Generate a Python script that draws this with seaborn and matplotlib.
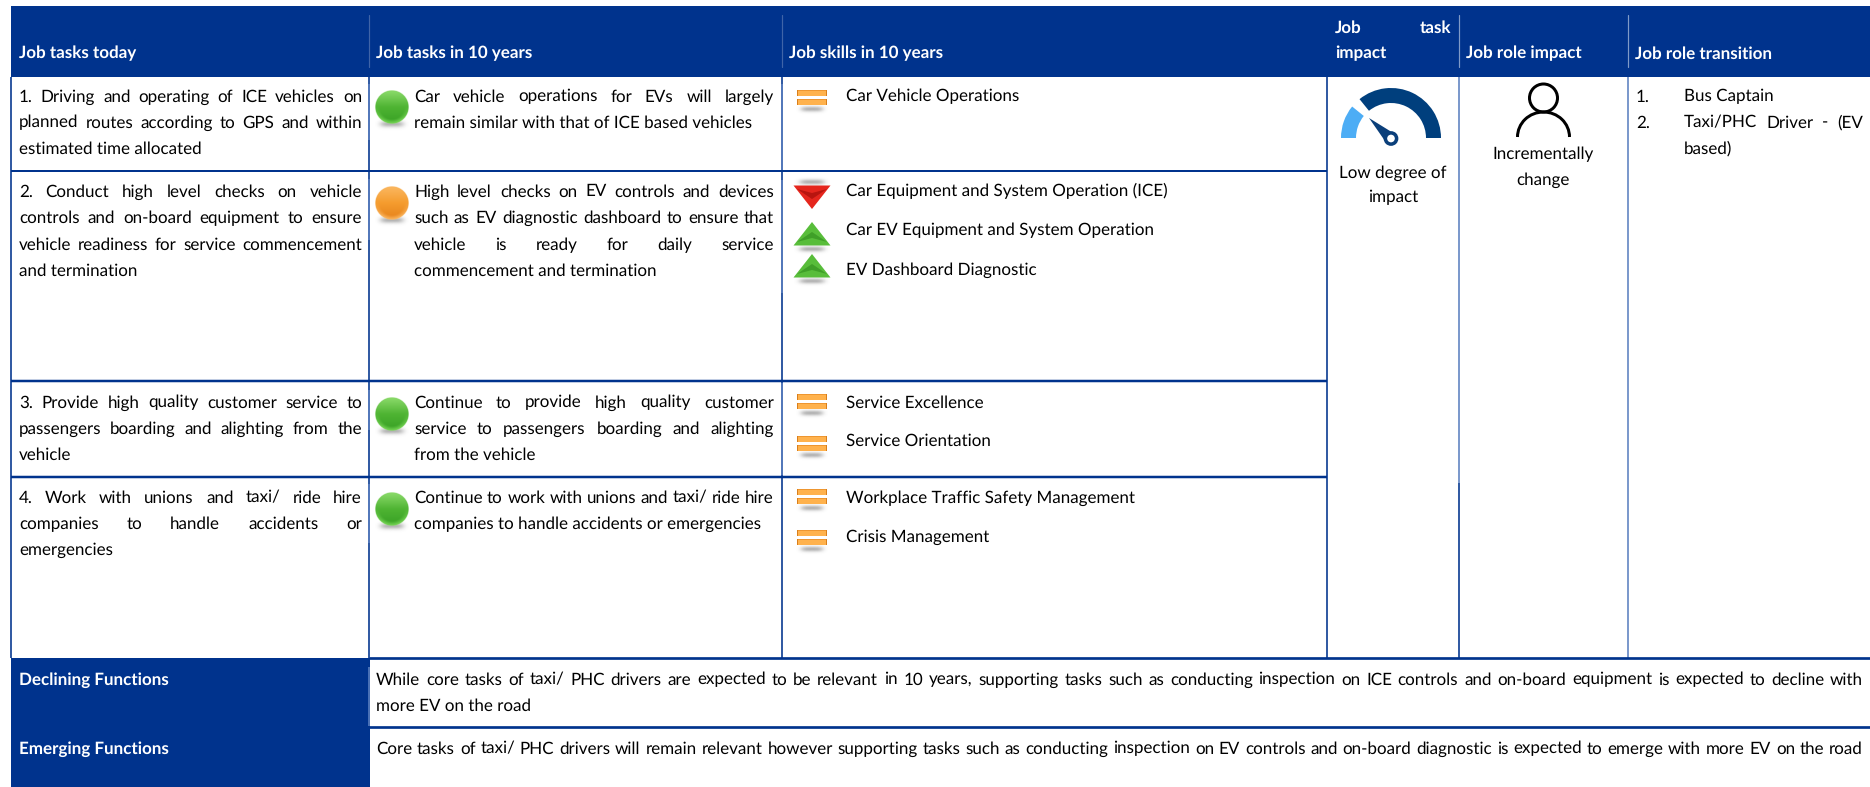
import matplotlib
matplotlib.use("Agg")
import matplotlib.pyplot as plt
from matplotlib.patches import Arc, Circle, Polygon, Rectangle, Wedge
import numpy as np
import pandas as pd
import seaborn as sns

# table content
header_labels = ["Job tasks today", "Job tasks in 10 years", "Job skills in 10 years",
                 "Job role impact", "Job role transition"]
tasks_today = [
    ["1. Driving and operating of ICE vehicles on", "planned routes according to GPS and within",
     "estimated time allocated"],
    ["2. Conduct high level checks on vehicle", "controls and on-board equipment to ensure",
     "vehicle readiness for service commencement", "and termination"],
    ["3. Provide high quality customer service to", "passengers boarding and alighting from the",
     "vehicle"],
    ["4. Work with unions and taxi/ ride hire", "companies to handle accidents or", "emergencies"],
]
tasks_future = [
    ["Car vehicle operations for EVs will largely", "remain similar with that of ICE based vehicles"],
    ["High level checks on EV controls and devices", "such as EV diagnostic dashboard to ensure that",
     "vehicle is ready for daily service", "commencement and termination"],
    ["Continue to provide high quality customer", "service to passengers boarding and alighting",
     "from the vehicle"],
    ["Continue to work with unions and taxi/ ride hire", "companies to handle accidents or emergencies"],
]
task_status = ["stable", "changing", "stable", "stable"]
skill_names = ["Car Vehicle Operations", "Car Equipment and System Operation (ICE)",
               "Car EV Equipment and System Operation", "EV Dashboard Diagnostic",
               "Service Excellence", "Service Orientation",
               "Workplace Traffic Safety Management", "Crisis Management"]
skill_trend = ["flat", "down", "up", "up", "flat", "flat", "flat", "flat"]
impact_lines = ["Low degree of", "impact"]
role_lines = ["Incrementally", "change"]
declining_text = ["While core tasks of taxi/ PHC drivers are expected to be relevant in 10 years, supporting tasks such as conducting inspection on ICE controls and on-board equipment is expected to decline with",
                  "more EV on the road"]
emerging_text = ["Core tasks of taxi/ PHC drivers will remain relevant however supporting tasks such as conducting inspection on EV controls and on-board diagnostic is expected to emerge with more EV on the road"]

# layout, in pixels of the 1870x787 canvas
W, H = 1870, 787
NAVY = "#00338d"
col_x = [11, 368.5, 782, 1327, 1459, 1628]
row_y = [77, 171, 381, 476.5, 658, 727]
task_line_y = [[96, 122, 148], [191, 217.5, 244.5, 270.5], [402, 428.5, 454.5], [497, 523.5, 549.5]]
ball_y = [107, 203, 414, 509]
skill_text_y = [96, 191, 230, 269, 402, 440, 497, 536]
skill_icon_y = [97.5, 197, 234, 266, 401.5, 443.5, 496.5, 537]
# stretches of the inner rules that print paler in the source
pale_rules = [(368.5, 84, 140), (368.5, 179, 240), (368.5, 390, 430), (368.5, 484, 543), (369, 667, 726),
              (782, 84, 170), (782, 180, 293), (782, 383, 475)]
FONT = "Lato"
FS = 12.2
BASE = 5.5

sns.set_theme(style="white")
plt.rcParams["font.family"] = [FONT, "DejaVu Sans"]
plt.rcParams["text.hinting"] = "no_hinting"
plt.rcParams["text.hinting_factor"] = 1

fig = plt.figure(figsize=(W / 100, H / 100), dpi=100)
ax = fig.add_axes([0, 0, 1, 1])
renderer = fig.canvas.get_renderer()


def px(v):
    return v * 0.72


def put_line(line, x0, y, x1=None, color="black", weight="normal", ha="left", fs=FS):
    # x1 given: spread the words so the line runs from x0 to x1
    kw = dict(color=color, fontweight=weight, fontsize=fs, va="baseline", zorder=6)
    if x1 is None:
        ax.text(x0, y + BASE, line, ha=ha, **kw)
        return
    words = line.split()
    items = [ax.text(x0, y + BASE, w, ha="left", **kw) for w in words]
    widths = [t.get_window_extent(renderer).width for t in items]
    gap = (x1 - x0 - sum(widths)) / max(len(words) - 1, 1)
    x = x0
    for t, w in zip(items, widths):
        t.set_x(x)
        x += w + gap


def put_block(lines, x0, x1, ys):
    for i, (line, y) in enumerate(zip(lines, ys)):
        put_line(line, x0, y, x1 if i < len(lines) - 1 else None)


def blit(rgba, cx, cy, w, h, z=4):
    ax.imshow(rgba, extent=(cx - w / 2, cx + w / 2, cy + h / 2, cy - h / 2),
              interpolation="bilinear", aspect="auto", zorder=z)


def shadow(cx, cy, rx, ry, z=3, strength=0.5):
    yy, xx = np.mgrid[-1:1:40j, -1:1:60j]
    a = np.exp(-(xx ** 4 * 4 + yy ** 2 * 5)) * strength
    img = np.zeros((40, 60, 4))
    img[..., :3] = 0.4
    img[..., 3] = a
    blit(img, cx, cy, rx * 2, ry * 2, z)


def ball_image(top, mid, low, rim, n=90):
    yy, xx = np.mgrid[-1:1:n * 1j, -1:1:n * 1j]
    r = np.hypot(xx, yy)
    t = np.clip((yy + 1) / 2, 0, 1)[..., None]
    top, mid, low, rim = [np.array(matplotlib.colors.to_rgb(c)) for c in (top, mid, low, rim)]
    col = np.where(t < 0.5, top + (mid - top) * t * 2, mid + (low - mid) * (t - 0.5) * 2)
    edge = np.clip((r - 0.72) / 0.28, 0, 1)[..., None] * np.clip((yy + 0.1) / 0.9, 0, 1)[..., None]
    col = col + (rim - col) * edge
    img = np.dstack([col, np.clip((1 - r) * n / 2, 0, 1)])
    return img


def flat_icon(cx, cy):
    shadow(cx, cy + 12, 16, 6)
    for dy in (-7.5, 1.5):
        ax.add_patch(Rectangle((cx - 15, cy + dy), 30, 6, fc="#ffb24d", ec="none", zorder=4))
        ax.add_patch(Rectangle((cx - 15, cy + dy), 30, 1.2, fc="#ee9630", ec="none", zorder=5))
        ax.add_patch(Rectangle((cx - 15, cy + dy), 1.2, 6, fc="#d97f1c", ec="none", zorder=5))
        ax.add_patch(Rectangle((cx + 13.8, cy + dy), 1.2, 6, fc="#d97f1c", ec="none", zorder=5))


def triangle_icon(cx, cy, up):
    s = 1 if up else -1
    base_col, dark_col = ("#58bd3a", "#3f9f28") if up else ("#e5261d", "#b8150f")
    shadow(cx, cy + s * 15, 18, 6)
    ax.add_patch(Polygon([(cx, cy - s * 12), (cx - 18.5, cy + s * 11.5), (cx + 18.5, cy + s * 11.5)],
                         fc=base_col, ec="none", zorder=4))
    # darker chevron inside the triangle
    ax.add_patch(Polygon([(cx, cy - s * 2), (cx - 15, cy + s * 8), (cx, cy + s * 4), (cx + 15, cy + s * 8)],
                         fc=dark_col, ec="none", zorder=5))


# seaborn places the status discs and the gradients go on top
balls = pd.DataFrame({"x": [392] * 4, "y": ball_y, "status": task_status})
sns.scatterplot(data=balls, x="x", y="y", hue="status", s=px(32) ** 2, linewidth=0, legend=False,
                palette={"stable": "#4ab030", "changing": "#f39a2c"}, ax=ax, zorder=3.5)
for yc, st in zip(ball_y, task_status):
    shadow(392, yc + 17, 17, 7)
    if st == "stable":
        blit(ball_image("#8ddc6c", "#4fb433", "#37a024", "#7fdc5c"), 392, yc, 33.5, 34)
    else:
        blit(ball_image("#fbb862", "#f59c2e", "#e5811a", "#ffbe6a"), 392, yc, 33.5, 34)

# header and footer blocks
ax.add_patch(Rectangle((col_x[0], 6), W - col_x[0], 71, fc=NAVY, ec="none", zorder=1))
ax.add_patch(Rectangle((col_x[0], row_y[4]), col_x[1] - col_x[0] + 1, H - row_y[4], fc=NAVY, ec="none", zorder=1))
for x, c in zip([368.5, 782, 1459, 1628], ["#3f64a8", "#3f64a8", "#7f9ac8", "#7f9ac8"]):
    ax.plot([x, x], [15, 67], color=c, lw=px(1.2), zorder=2)

# grid
for x in [col_x[0], col_x[1], col_x[2], col_x[3]]:
    ax.plot([x, x], [77, row_y[4]], color=NAVY, lw=px(1.6), zorder=2, solid_capstyle="butt")
for x, y_split in [(col_x[4], 483), (col_x[5], row_y[4])]:
    ax.plot([x, x], [77, y_split], color="#5c80c0", lw=px(1.6), zorder=2, solid_capstyle="butt")
ax.plot([col_x[4], col_x[4]], [483, row_y[4]], color=NAVY, lw=px(1.6), zorder=2, solid_capstyle="butt")
for x, y0, y1 in pale_rules:
    ax.plot([x, x], [y0, y1], color="#5c80c0", lw=px(1.6), zorder=2.1, solid_capstyle="butt")
for y, lw in zip(row_y[1:4], [2, 2.5, 2.5]):
    ax.plot([col_x[0], col_x[3]], [y, y], color=NAVY, lw=px(lw), zorder=2.2, solid_capstyle="butt")
for y in row_y[4:]:
    ax.plot([col_x[1], W], [y, y], color=NAVY, lw=px(2.7), zorder=2.2, solid_capstyle="butt")

# header text
for label, x in zip(header_labels, [19, 376, 789, 1466, 1635]):
    put_line(label, x, 53, color="white", weight="bold")
put_line("Job task", 1335, 27, 1451, color="white", weight="bold")
put_line("impact", 1335, 53, color="white", weight="bold")

# task columns
for lines, ys in zip(tasks_today, task_line_y):
    put_block(lines, 19, 362, ys)
for lines, ys in zip(tasks_future, task_line_y):
    put_block(lines, 414, 774, ys)

# skills column
for name, trend, ty, iy in zip(skill_names, skill_trend, skill_text_y, skill_icon_y):
    put_line(name, 846, ty)
    if trend == "flat":
        flat_icon(812, iy)
    else:
        triangle_icon(812, iy, trend == "up")

# gauge
gx, gy = 1391, 138
ax.add_patch(Wedge((gx, gy), 50, -180, -141, width=15, fc="#4dadf5", ec="none", zorder=4))
ax.add_patch(Wedge((gx, gy), 50, -129, 0, width=15, fc="#003f7d", ec="none", zorder=4))
ax.add_patch(Polygon([(gx - 22, gy - 20), (gx - 1, gy - 7), (gx + 5, gy - 1), (gx - 6, gy + 3)],
                     fc="#0b3f7a", ec="none", zorder=4))
ax.add_patch(Circle((gx, gy + 0.5), 5.6, fc="white", ec="#0b3f7a", lw=px(3.5), zorder=5))
for i, line in enumerate(impact_lines):
    put_line(line, 1393, 172 + 25 * i, ha="center")

# person icon
ax.add_patch(Circle((1543.5, 98), 14, fc="none", ec="black", lw=px(3), zorder=4))
ax.add_patch(Arc((1543.5, 137), 52, 50, theta1=180, theta2=360, ec="black", lw=px(3), zorder=4))
for i, line in enumerate(role_lines):
    put_line(line, 1543, 153.5 + 25.5 * i, ha="center")

# transition column
put_line("1.", 1636, 96)
put_line("Bus Captain", 1684, 96)
put_line("2.", 1636, 122)
put_line("Taxi/PHC Driver - (EV", 1684, 122, 1863)
put_line("based)", 1684, 148)

# footer rows
put_line("Declining Functions", 19, 679, color="white", weight="bold")
put_line("Emerging Functions", 19, 748, color="white", weight="bold")
put_line(declining_text[0], 376, 679, 1863)
put_line(declining_text[1], 376, 705)
put_line(emerging_text[0], 376, 748, 1863)

ax.set_xlim(0, W)
ax.set_ylim(H, 0)
ax.axis("off")
fig.savefig("out.png", dpi=100)
